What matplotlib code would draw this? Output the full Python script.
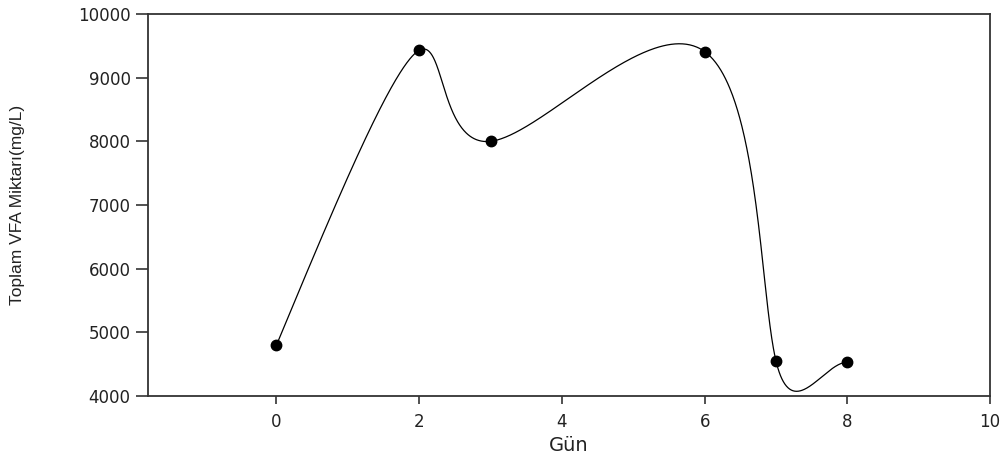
import numpy as np
import matplotlib
matplotlib.use("Agg")
import matplotlib.pyplot as plt

gun = np.array([0, 2, 3, 6, 7, 8], dtype=float)
vfa = np.array([4800, 9430, 8000, 9410, 4550, 4530], dtype=float)

xticks = [0, 2, 4, 6, 8, 10]
yticks = [4000, 5000, 6000, 7000, 8000, 9000, 10000]


def spline(t, y, ts):
    # cubic spline: natural start, end slope clamped to the last chord
    n = len(t)
    h = np.diff(t)
    A = np.zeros((n, n))
    b = np.zeros(n)
    for i in range(1, n - 1):
        A[i, i - 1] = h[i - 1]
        A[i, i] = 2 * (h[i - 1] + h[i])
        A[i, i + 1] = h[i]
        b[i] = 6 * ((y[i + 1] - y[i]) / h[i] - (y[i] - y[i - 1]) / h[i - 1])
    A[0, 0] = 1
    A[-1, -1] = 2 * h[-1]
    A[-1, -2] = h[-1]
    M = np.linalg.solve(A, b)
    idx = np.clip(np.searchsorted(t, ts) - 1, 0, n - 2)
    t0, t1 = t[idx], t[idx + 1]
    hh = t1 - t0
    a = t1 - ts
    c = ts - t0
    return (M[idx] * a**3 / (6 * hh) + M[idx + 1] * c**3 / (6 * hh)
            + (y[idx] / hh - M[idx] * hh / 6) * a
            + (y[idx + 1] / hh - M[idx + 1] * hh / 6) * c)


plt.rcParams['font.family'] = ['DejaVu Sans']

fig = plt.figure(figsize=(10.03, 4.63), dpi=100)
ax = fig.add_axes([0.1476, 0.1447, 0.8395, 0.8251])

# smooth line: parametric spline through the points (uniform parameter)
t = np.arange(len(gun), dtype=float)
ts = np.linspace(0, t[-1], 800)
ax.plot(spline(t, gun, ts), spline(t, vfa, ts), color='black', linewidth=0.9)
ax.plot(gun, vfa, 'o', color='black', markersize=7.5, clip_on=False)

ax.set_xlim(-1.8, 10)
ax.set_ylim(4000, 10000)
ax.set_xticks(xticks)
ax.set_yticks(yticks)

for s in ax.spines.values():
    s.set_color('#333333')
    s.set_linewidth(1.3)

ax.tick_params(axis='y', direction='out', length=9, width=1.2, color='#333333',
               labelsize=12, labelcolor='#222222')
ax.tick_params(axis='x', direction='out', length=6, width=1.2, color='#333333',
               labelsize=12, labelcolor='#222222', pad=6)

ax.set_xlabel("Gün", fontsize=14, color='#222222', labelpad=4)
ax.set_ylabel("Toplam VFA Miktarı(mg/L)", fontsize=12.5, color='#222222',
              family='Liberation Sans', labelpad=38)

fig.savefig("out.png", dpi=100)
